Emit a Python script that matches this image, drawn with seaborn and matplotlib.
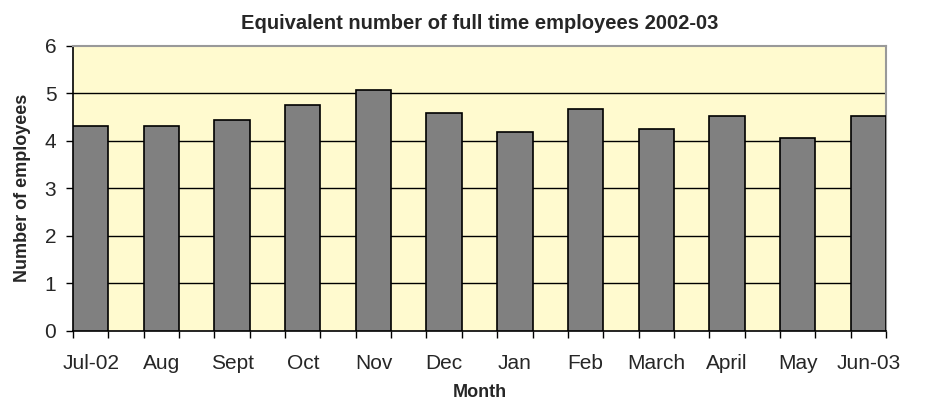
import matplotlib
matplotlib.use("Agg")
import matplotlib.pyplot as plt
import seaborn as sns
import numpy as np
import pandas as pd

sns.set_style("white")
plt.rcParams['font.family'] = ['Liberation Sans', 'DejaVu Sans']

months = ['Jul-02', 'Aug', 'Sept', 'Oct', 'Nov', 'Dec', 'Jan', 'Feb',
          'March', 'April', 'May', 'Jun-03']
employees = [4.32, 4.30, 4.44, 4.76, 5.07, 4.58, 4.19, 4.67, 4.24, 4.51, 4.06, 4.51]

df = pd.DataFrame({'Month': months, 'Employees': employees})

fig = plt.figure(figsize=(9.3, 4.01), dpi=100)
ax = fig.add_axes([0.0785, 0.1753, 0.8742, 0.7107])
ax.set_facecolor('#FFFACF')

sns.barplot(x='Month', y='Employees', data=df, ax=ax, color='#808080',
            saturation=1, width=0.5, edgecolor='black', linewidth=1.2, zorder=3)

for y in range(1, 6):
    ax.axhline(y, color='black', linewidth=1, zorder=1)

# tick marks at bar edges, labels at bar centres
ax.set_xticks(np.arange(-0.25, len(months) - 0.5, 0.5), minor=True)
ax.set_xlim(-0.25, len(months) - 0.75)
ax.set_ylim(0, 6)
ax.set_yticks(range(0, 7))

ax.tick_params(axis='x', which='major', length=0, pad=17, labelsize=15)
ax.tick_params(axis='x', which='minor', length=5, width=1, color='black',
               direction='out', bottom=True)
ax.tick_params(axis='y', length=5, width=1, color='black', direction='out',
               left=True, labelsize=15, pad=7)

for side in ['top', 'right']:
    ax.spines[side].set_color('#999999')
    ax.spines[side].set_linewidth(1.5)
for side in ['left', 'bottom']:
    ax.spines[side].set_color('black')
    ax.spines[side].set_linewidth(1.2)

ax.set_title('Equivalent number of full time employees 2002-03',
             fontsize=14.5, fontweight='bold', pad=12)
ax.set_xlabel('Month', fontsize=13, fontweight='bold', labelpad=8)
ax.set_ylabel('Number of employees', fontsize=13, fontweight='bold', labelpad=10)

plt.savefig('out.png', dpi=100)
